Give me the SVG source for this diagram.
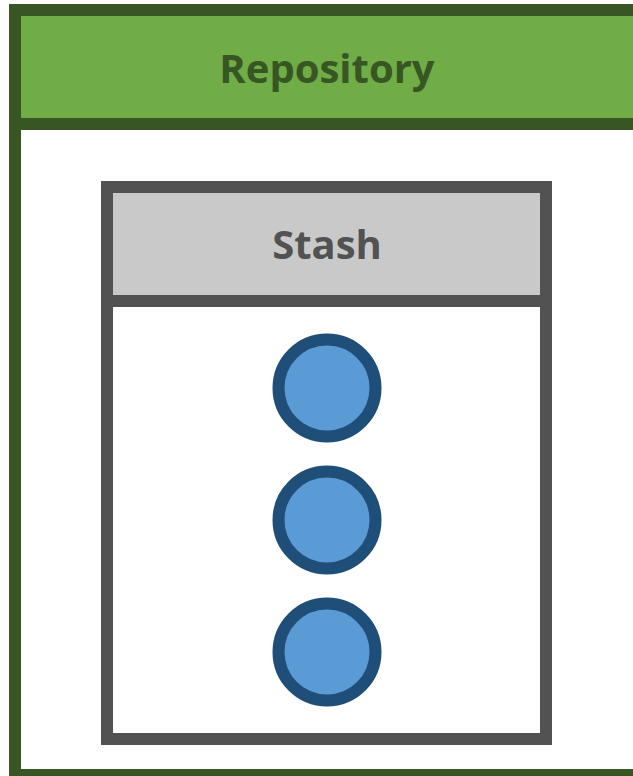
<svg xmlns="http://www.w3.org/2000/svg" width="633" height="776" viewBox="0 0 633 776">
  <style>
    .title { font-family: "Open Sans", "Liberation Sans", sans-serif; font-weight: bold; text-anchor: middle; }
    .item { fill: #5B9BD5; stroke: #1F4E79; stroke-width: 12; }
  </style>
  <rect width="633" height="776" fill="#FFFFFF"/>
  <!-- Repository container -->
  <g id="repository">
    <rect x="15" y="10" width="640" height="765" fill="#FFFFFF" stroke="#375623" stroke-width="12"/>
    <rect x="21" y="16" width="640" height="102" fill="#70AD47"/>
    <line x1="9" y1="124" x2="660" y2="124" stroke="#375623" stroke-width="12"/>
    <text class="title" x="327" y="83" font-size="40" fill="#375623">Repository</text>
  </g>
  <!-- Stash container -->
  <g id="stash">
    <rect x="107" y="187" width="439" height="552" fill="#FFFFFF" stroke="#525252" stroke-width="12"/>
    <rect x="113" y="193" width="427" height="102" fill="#C9C9C9"/>
    <line x1="101" y1="301" x2="552" y2="301" stroke="#525252" stroke-width="12"/>
    <text class="title" x="327" y="259" font-size="40" fill="#525252">Stash</text>
  </g>
  <!-- Stashed entries -->
  <g id="entry-1"><circle class="item" cx="327" cy="388" r="48.5"/></g>
  <g id="entry-2"><circle class="item" cx="327" cy="520" r="48.5"/></g>
  <g id="entry-3"><circle class="item" cx="327" cy="652" r="48.5"/></g>
</svg>
